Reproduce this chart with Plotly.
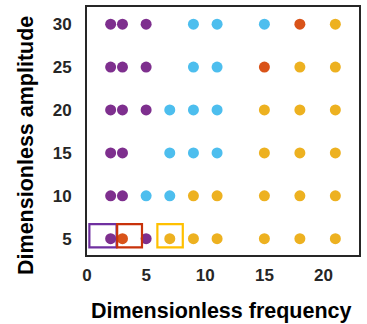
import plotly.graph_objects as go

# Regime map: (frequency, amplitude) cases grouped by response type
purple_f = [2, 3, 5, 2, 3, 5, 2, 3, 5, 2, 3, 2, 3, 2, 5]
purple_a = [30, 30, 30, 25, 25, 25, 20, 20, 20, 15, 15, 10, 10, 5, 5]

blue_f = [9, 11, 15, 9, 11, 7, 9, 11, 7, 9, 11, 5, 7]
blue_a = [30, 30, 30, 25, 25, 20, 20, 20, 15, 15, 15, 10, 10]

red_f = [18, 15, 3]
red_a = [30, 25, 5]

yellow_f = [21, 18, 21, 15, 18, 21, 15, 18, 21, 9, 11, 15, 18, 21, 7, 9, 11, 15, 18, 21]
yellow_a = [30, 25, 25, 20, 20, 20, 15, 15, 15, 10, 10, 10, 10, 10, 5, 5, 5, 5, 5, 5]

# Highlighted cases: (x0, x1, y0, y1, colour)
boxes = [
    (0.2, 2.5, 4.0, 6.7, "#7030A0"),
    (2.55, 4.65, 4.0, 6.7, "#C8320A"),
    (5.95, 8.1, 4.0, 6.7, "#FFC000"),
]

x_ticks = [0, 5, 10, 15, 20]
y_ticks = [5, 10, 15, 20, 25, 30]

fig = go.Figure()
for xs, ys, col in [
    (purple_f, purple_a, "#7E2F8E"),
    (blue_f, blue_a, "#4DBEEE"),
    (red_f, red_a, "#D95319"),
    (yellow_f, yellow_a, "#EDB120"),
]:
    fig.add_trace(go.Scatter(x=xs, y=ys, mode="markers",
                             marker=dict(color=col, size=11, line=dict(width=0)),
                             showlegend=False))

for x0, x1, y0, y1, col in boxes:
    fig.add_shape(type="rect", x0=x0, x1=x1, y0=y0, y1=y1,
                  line=dict(color=col, width=2.2), fillcolor="rgba(0,0,0,0)")

axis_font = dict(family="Liberation Sans, Arial, sans-serif", size=17, color="#262626")
title_font = dict(family="Liberation Sans, Arial, sans-serif", size=21.5, color="black")

# Axis titles placed as annotations for exact positioning
fig.add_annotation(text="<b>Dimensionless frequency</b>", xref="paper", yref="paper",
                   x=0.496, y=-0.226, xanchor="center", yanchor="middle",
                   showarrow=False, font=title_font)
fig.add_annotation(text="<b>Dimensionless amplitude</b>", xref="paper", yref="paper",
                   x=-0.224, y=0.44, xanchor="center", yanchor="middle", textangle=-90,
                   showarrow=False, font=title_font)

fig.update_layout(
    width=367, height=324,
    margin=dict(l=87, r=8, t=7, b=69),
    plot_bgcolor="white", paper_bgcolor="white",
    xaxis=dict(range=[0, 23], tickvals=x_ticks, ticktext=[f"<b>{v}</b>" for v in x_ticks],
               tickfont=axis_font, showgrid=False, zeroline=False, automargin=False,
               showline=True, linecolor="#262626", linewidth=2, mirror=True,
               ticks="", ticklabelstandoff=4),
    yaxis=dict(range=[3.1, 32], tickvals=y_ticks, ticktext=[f"<b>{v}</b>" for v in y_ticks],
               tickfont=axis_font, showgrid=False, zeroline=False, automargin=False,
               showline=True, linecolor="#262626", linewidth=2, mirror=True,
               ticks="", ticklabelstandoff=10),
)

fig.write_html("out.html")
